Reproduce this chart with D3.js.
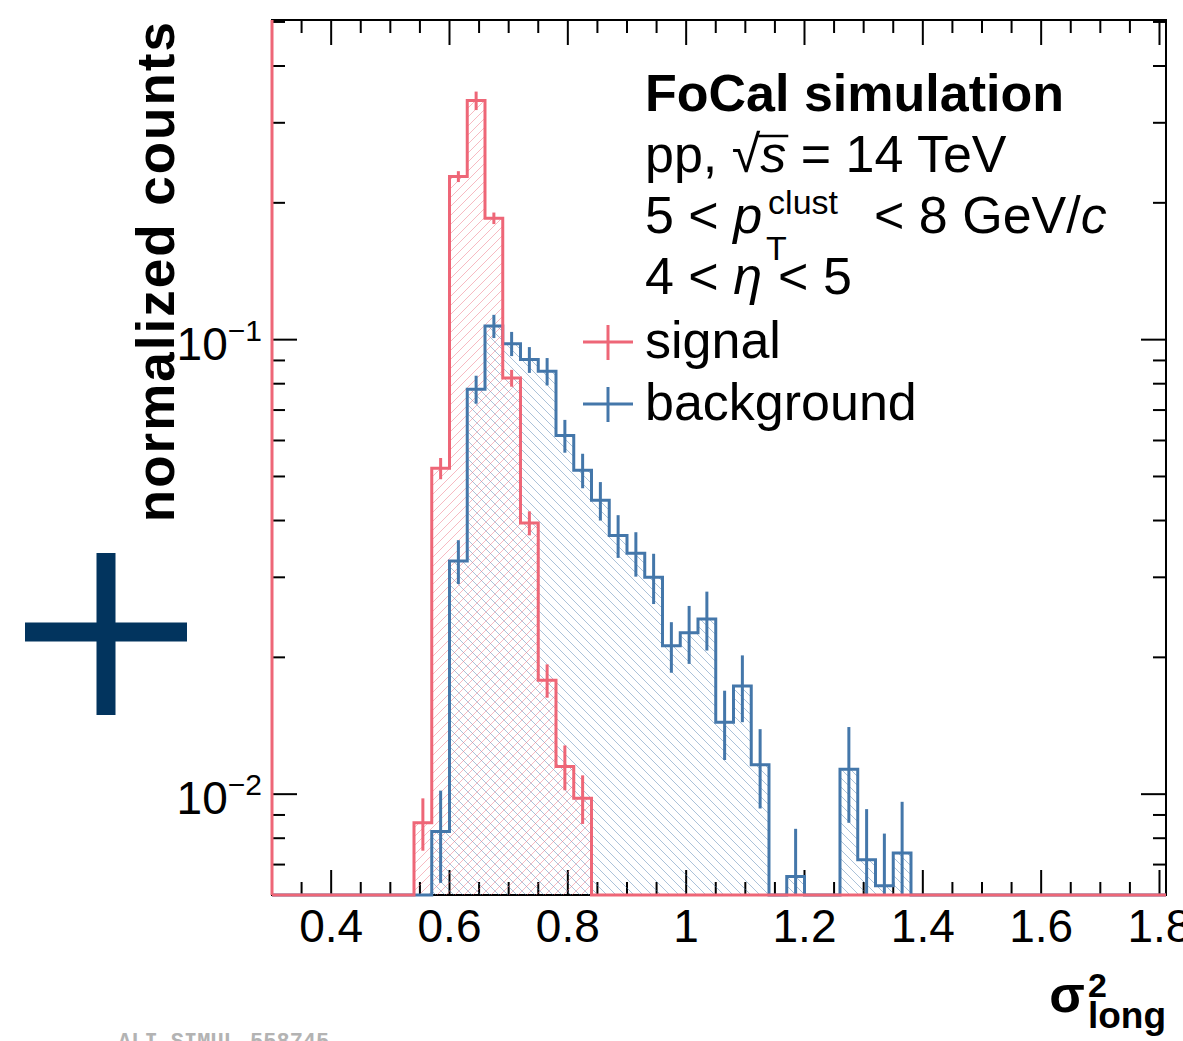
<!DOCTYPE html>
<html lang="en">
<head>
<meta charset="utf-8">
<title>FoCal sigma2 long</title>
<script src="https://d3js.org/d3.v7.min.js"></script>
<style>
body { margin:0; background:#ffffff; }
text { font-family:"Liberation Sans", Arial, sans-serif; fill:#000000; }
</style>
</head>
<body>
<div id="chart"></div>
<script>
// bin low edges (bin width 0.03) and normalized contents
const binW = 0.03;
const sigBins = [0.54, 0.57, 0.60, 0.63, 0.66, 0.69, 0.72, 0.75, 0.78, 0.81];
const sigVals = [0.00865, 0.0521, 0.2285, 0.3357, 0.185, 0.0823, 0.0395, 0.0178, 0.0115, 0.0098];
const sigErrs = [0.00114, 0.0028, 0.0063, 0.0157, 0.0054, 0.0035, 0.0024, 0.0015, 0.0013, 0.0012];

const bkgBins = [0.54, 0.57, 0.60, 0.63, 0.66, 0.69, 0.72, 0.75, 0.78, 0.81, 0.84, 0.87, 0.90, 0.93,
                 0.96, 0.99, 1.02, 1.05, 1.08, 1.11, 1.14, 1.17, 1.20, 1.23, 1.26, 1.29, 1.32, 1.35];
const bkgVals = [0, 0.00828, 0.0326, 0.0778, 0.1071, 0.098, 0.0904, 0.0852, 0.0615, 0.0516, 0.0443, 0.0371, 0.0339, 0.030,
                 0.0212, 0.02265, 0.0243, 0.01439, 0.0173, 0.0116, 0, 0.00659, 0, 0, 0.01135, 0.00717, 0.00629, 0.00742];
const bkgErrs = [0, 0.0019, 0.0036, 0.0055, 0.0063, 0.006, 0.0059, 0.0059, 0.0051, 0.0045, 0.0043, 0.004, 0.0038, 0.0038,
                 0.0027, 0.0033, 0.0036, 0.0025, 0.0029, 0.0023, 0, 0.0018, 0, 0, 0.0027, 0.0021, 0.0019, 0.0022];

const xTicks = [0.4, 0.6, 0.8, 1.0, 1.2, 1.4, 1.6, 1.8];
const xTickLabels = ["0.4", "0.6", "0.8", "1", "1.2", "1.4", "1.6", "1.8"];
const yTicks = [0.01, 0.1];
const yTickExp = ["\u22122", "\u22121"];
const yMinor = [0.006, 0.007, 0.008, 0.009, 0.02, 0.03, 0.04, 0.05, 0.06, 0.07, 0.08, 0.09, 0.2, 0.3, 0.4, 0.5];

const sigColor = "#ee6677";
const bkgColor = "#4477aa";

const W = 1183, H = 1041;
const fr = {left: 272, right: 1166, top: 20, bottom: 895};
const xMin = 0.3, xMax = 1.811, yMin = 0.006, yMax = 0.505;

const svg = d3.select("#chart").append("svg").attr("width", W).attr("height", H);
const x = d3.scaleLinear().domain([xMin, xMax]).range([fr.left, fr.right]);
const y = d3.scaleLog().domain([yMin, yMax]).range([fr.bottom, fr.top]);

// hatch patterns
const defs = svg.append("defs");
defs.append("pattern").attr("id", "hatchSig").attr("patternUnits", "userSpaceOnUse")
  .attr("width", 9).attr("height", 9)
  .append("path").attr("d", "M0,9 L9,0 M-2,2 L2,-2 M7,11 L11,7")
  .attr("stroke", sigColor).attr("stroke-opacity", 0.45).attr("stroke-width", 1);
defs.append("pattern").attr("id", "hatchBkg").attr("patternUnits", "userSpaceOnUse")
  .attr("width", 9).attr("height", 9)
  .append("path").attr("d", "M0,0 L9,9 M-2,7 L2,11 M7,-2 L11,2")
  .attr("stroke", bkgColor).attr("stroke-opacity", 0.45).attr("stroke-width", 1);
defs.append("clipPath").attr("id", "clipFrame").append("rect")
  .attr("x", fr.left).attr("y", fr.top).attr("width", fr.right - fr.left).attr("height", fr.bottom - fr.top);

// frame
svg.append("rect").attr("x", fr.left).attr("y", fr.top)
  .attr("width", fr.right - fr.left).attr("height", fr.bottom - fr.top)
  .attr("fill", "none").attr("stroke", "#000").attr("stroke-width", 2);

// x ticks (top and bottom)
const xAll = d3.range(0.35, xMax, 0.05);
const gTicks = svg.append("g").attr("stroke", "#000").attr("stroke-width", 2);
xAll.forEach(v => {
  const len = xTicks.some(t => Math.abs(t - v) < 1e-6) ? 25 : 13;
  gTicks.append("line").attr("x1", x(v)).attr("x2", x(v)).attr("y1", fr.bottom).attr("y2", fr.bottom - len);
  gTicks.append("line").attr("x1", x(v)).attr("x2", x(v)).attr("y1", fr.top).attr("y2", fr.top + len);
});
// y ticks (left and right)
yTicks.concat(yMinor).forEach(v => {
  const len = yTicks.includes(v) ? 25 : 13;
  gTicks.append("line").attr("x1", fr.left).attr("x2", fr.left + len).attr("y1", y(v)).attr("y2", y(v));
  gTicks.append("line").attr("x1", fr.right).attr("x2", fr.right - len).attr("y1", y(v)).attr("y2", y(v));
});

// tick labels
xTicks.forEach((v, i) => {
  svg.append("text").attr("x", x(v)).attr("y", 942).attr("text-anchor", "middle")
    .attr("font-size", "46px").text(xTickLabels[i]);
});
yTicks.forEach((v, i) => {
  const t = svg.append("text").attr("x", 262).attr("y", y(v) + 20).attr("text-anchor", "end").attr("font-size", "46px");
  t.append("tspan").text("10");
  t.append("tspan").attr("font-size", "30px").attr("dy", -19).text(yTickExp[i]);
});

// histogram outline as steps, zero bins sit on the bottom of the frame
function stepPoints(bins, vals) {
  const pts = [[x(xMin), fr.bottom], [x(bins[0]), fr.bottom]];
  bins.forEach((b, i) => {
    const yy = vals[i] > yMin ? y(vals[i]) : fr.bottom;
    pts.push([x(b), yy], [x(b + binW), yy]);
  });
  pts.push([x(bins[bins.length - 1] + binW), fr.bottom], [x(xMax), fr.bottom]);
  return pts;
}
function drawHist(bins, vals, hatch) {
  const pts = stepPoints(bins, vals);
  svg.append("path").attr("d", d3.line()(pts) + "Z").attr("fill", `url(#${hatch})`)
    .attr("stroke", "none").attr("clip-path", "url(#clipFrame)");
  return pts;
}
function drawLines(pts, bins, vals, errs, color) {
  svg.append("path").attr("d", d3.line()(pts)).attr("fill", "none")
    .attr("stroke", color).attr("stroke-width", 3).attr("stroke-linejoin", "miter");
  bins.forEach((b, i) => {
    if (vals[i] <= 0) return;
    const cx = x(b + binW / 2);
    const lo = vals[i] - errs[i];
    svg.append("line").attr("x1", cx).attr("x2", cx)
      .attr("y1", y(vals[i] + errs[i]))
      .attr("y2", lo > yMin ? y(lo) : fr.bottom)
      .attr("stroke", color).attr("stroke-width", 3);
  });
}
const bkgPts = drawHist(bkgBins, bkgVals, "hatchBkg");
const sigPts = drawHist(sigBins, sigVals, "hatchSig");
drawLines(bkgPts, bkgBins, bkgVals, bkgErrs, bkgColor);
drawLines(sigPts, sigBins, sigVals, sigErrs, sigColor);
// ROOT draws the signal line up the left edge of the frame
svg.append("line").attr("x1", fr.left).attr("x2", fr.left).attr("y1", fr.bottom).attr("y2", fr.top)
  .attr("stroke", sigColor).attr("stroke-width", 3);

// text block
const tx = 645;
svg.append("text").attr("x", tx).attr("y", 111).attr("font-size", "52px").attr("font-weight", "bold")
  .text("FoCal simulation");

const l2 = svg.append("text").attr("x", tx).attr("y", 172).attr("font-size", "52px");
l2.append("tspan").text("pp, ");
l2.append("tspan").text("\u221A");
l2.append("tspan").attr("font-style", "italic").text("s");
l2.append("tspan").text(" = 14 TeV");
{
  const n = l2.node();
  const s0 = n.getStartPositionOfChar(5).x, s1 = n.getEndPositionOfChar(5).x;
  svg.append("line").attr("x1", s0 - 2).attr("x2", s1 + 2).attr("y1", 136).attr("y2", 136)
    .attr("stroke", "#000").attr("stroke-width", 2.5);
}

const l3 = svg.append("text").attr("x", tx).attr("y", 233).attr("font-size", "52px");
l3.append("tspan").text("5 < ");
l3.append("tspan").attr("font-style", "italic").text("p");
l3.append("tspan").attr("font-size", "34px").attr("dx", 6).attr("dy", -19).text("clust");
l3.append("tspan").attr("dx", 36).attr("dy", 19).text("< 8 GeV/");
l3.append("tspan").attr("font-style", "italic").text("c");
{
  const n = l3.node();
  const cx = n.getStartPositionOfChar(5).x;
  svg.append("text").attr("x", cx - 2).attr("y", 260).attr("font-size", "34px").text("T");
}

const l4 = svg.append("text").attr("x", tx).attr("y", 294).attr("font-size", "52px");
l4.append("tspan").text("4 < ");
l4.append("tspan").attr("font-style", "italic").text("\u03B7");
l4.append("tspan").attr("dx", 16).text("< 5");

// legend
const legend = [{label: "signal", color: sigColor, cy: 342}, {label: "background", color: bkgColor, cy: 404}];
legend.forEach(d => {
  svg.append("line").attr("x1", 583).attr("x2", 633).attr("y1", d.cy).attr("y2", d.cy)
    .attr("stroke", d.color).attr("stroke-width", 3);
  svg.append("line").attr("x1", 608).attr("x2", 608).attr("y1", d.cy - 17).attr("y2", d.cy + 18)
    .attr("stroke", d.color).attr("stroke-width", 3);
  svg.append("text").attr("x", tx).attr("y", d.cy + 16).attr("font-size", "52px").text(d.label);
});

// axis titles
svg.append("text").attr("transform", `translate(174,${fr.top}) rotate(-90)`).attr("text-anchor", "end")
  .attr("font-size", "53px").attr("font-weight", "bold").attr("letter-spacing", "2px").text("normalized counts");

const xt = svg.append("g");
const sig = xt.append("text").attr("x", 0).attr("y", 1012).attr("font-size", "52px").attr("font-weight", "bold").text("\u03C3");
const sw = sig.node().getComputedTextLength();
xt.append("text").attr("x", sw + 3).attr("y", 997).attr("font-size", "34px").attr("font-weight", "bold").text("2");
xt.append("text").attr("x", sw + 3).attr("y", 1028).attr("font-size", "37px").attr("font-weight", "bold").text("long");
const bb = xt.node().getBBox();
xt.attr("transform", `translate(${fr.right - bb.x - bb.width},0)`);

// logo cross and figure id
svg.append("path").attr("d", "M25,632 H187 M106,553 V715").attr("stroke", "#02345e")
  .attr("stroke-width", 19).attr("fill", "none");
svg.append("text").attr("x", 118).attr("y", 1048).style("font-family", "'Liberation Mono', monospace")
  .attr("font-weight", "bold").attr("font-size", "22px").style("fill", "#b3b3b3").text("ALI-SIMUL-558745");
</script>
</body>
</html>
